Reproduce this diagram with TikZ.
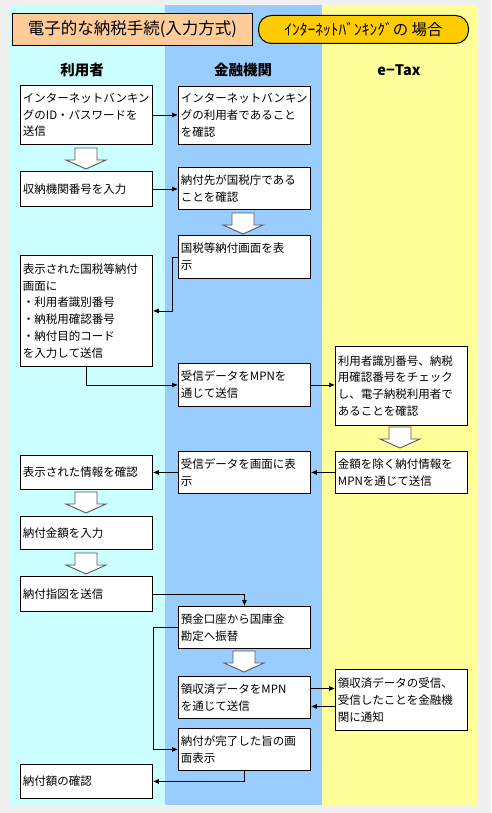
\documentclass[tikz,border=0pt]{standalone}
\usepackage{fontspec}
\setmainfont{Noto Sans CJK JP}
\usetikzlibrary{arrows.meta}
\definecolor{bggray}{HTML}{F0F0F0}
\definecolor{colcyan}{HTML}{CCFFFF}
\definecolor{colblue}{HTML}{99CCFF}
\definecolor{colyellow}{HTML}{FFFF99}
\definecolor{titleorange}{HTML}{FFCC99}
\definecolor{pillorange}{HTML}{FFCC00}
\begin{document}
\begin{tikzpicture}[x=1pt,y=-1pt,
  box/.style={draw=black, line width=0.9pt, fill=white, inner xsep=2.5pt, inner ysep=1pt,
    text width=127pt, align=left, font=\fontsize{11.5pt}{16.8pt}\selectfont, anchor=north west},
  conn/.style={line width=0.7pt, -{Latex[length=6pt,width=5pt]}},
  hollowstyle/.style={draw=black!65, line width=0.9pt, fill=white},
  colhead/.style={font=\bfseries\fontsize{14.5pt}{16pt}\selectfont},
  hollow/.pic={\draw[hollowstyle] (-11,0) -- (-11,12) -- (-20,12) -- (0,21) -- (20,12) -- (11,12) -- (11,0) -- cycle;}
]
\useasboundingbox (0,0) rectangle (491,813);
\fill[bggray] (0,0) rectangle (491,813);
\fill[colcyan] (9,5) rectangle (165,805);
\fill[colblue] (165,5) rectangle (322,805);
\fill[colyellow] (322,5) rectangle (477,805);

\node[draw=black, line width=0.9pt, fill=titleorange, minimum width=240pt, minimum height=32pt, anchor=north west,
  font=\fontsize{16.5pt}{18pt}\selectfont] (title) at (12,13) {電子的な納税手続(入力方式)};
\node[draw=black, line width=1pt, fill=pillorange, rounded corners=13pt, minimum width=210pt, minimum height=28pt,
  anchor=north west, font=\fontsize{15.5pt}{17pt}\selectfont] (pill) at (258,15) {ｲﾝﾀｰﾈｯﾄﾊﾞﾝｷﾝｸﾞの 場合};

\node[colhead] (h1) at (82,70) {利用者};
\node[colhead] (h2) at (243,70) {金融機関};
\node[colhead] (h3) at (399,70) {e−Tax};

\node[box, minimum height=59pt] (L1) at (20,85) {インターネットバンキン\\グのID・パスワードを\\送信};
\node[box, minimum height=58pt] (M1) at (178,86) {インターネットバンキン\\グの利用者であること\\を確認};
\node[box, minimum height=35pt] (L2) at (20,171) {収納機関番号を入力};
\node[box, minimum height=42pt] (M2) at (178,167) {納付先が国税庁である\\ことを確認};
\node[box, minimum height=43pt] (M3) at (178,235) {国税等納付画面を表\\示};
\node[box, minimum height=111pt] (L3) at (20,255) {表示された国税等納付\\画面に\\・利用者識別番号\\・納税用確認番号\\・納付目的コード\\を入力して送信};
\node[box, minimum height=43pt] (M4) at (178,363) {受信データをMPNを\\通じて送信};
\node[box, minimum height=79pt] (R1) at (335,346) {利用者識別番号、納税\\用確認番号をチェック\\し、電子納税利用者で\\あることを確認};
\node[box, minimum height=42pt] (R2) at (335,451) {金額を除く納付情報を\\MPNを通じて送信};
\node[box, minimum height=42pt] (M5) at (178,451) {受信データを画面に表\\示};
\node[box, minimum height=34pt] (L4) at (20,455) {表示された情報を確認};
\node[box, minimum height=33pt] (L5) at (20,516) {納付金額を入力};
\node[box, minimum height=35pt] (L6) at (20,576) {納付指図を送信};
\node[box, minimum height=42pt] (M6) at (178,606) {預金口座から国庫金\\勘定へ振替};
\node[box, minimum height=42pt] (M7) at (178,676) {領収済データをMPN\\を通じて送信};
\node[box, minimum height=61pt] (R3) at (335,669) {領収済データの受信、\\受信したことを金融機\\関に通知};
\node[box, minimum height=42pt] (M8) at (178,728) {納付が完了した旨の画\\面表示};
\node[box, minimum height=34pt] (L7) at (20,764) {納付額の確認};

\pic at (86,148) {hollow};
\pic at (243,213) {hollow};
\pic at (400,427) {hollow};
\pic at (86,492) {hollow};
\pic at (86,553) {hollow};
\pic at (244,651) {hollow};

\draw[conn] (L1.east) -- (L1.east -| M1.west);
\draw[conn] (L2.east) -- (L2.east -| M2.west);
\coordinate (k1) at ([xshift=-6pt]M3.west);
\draw[conn] (M3.west) -- (k1) |- (L3.east);
\draw[conn] (L3.south) |- (M4.west);
\draw[conn] (M4.east) -- (M4.east -| R1.west);
\draw[conn] (R2.west) -- (R2.west -| M5.east);
\draw[conn] (M5.west) -- (M5.west -| L4.east);
\draw[conn] (L6.east) -| (M6.north);
\coordinate (k2) at (M6.west -| L6.east);
\draw[conn] (M6.west) -- (k2) |- (M8.west);
\coordinate (a1) at ([yshift=9pt]M7.east);
\draw[conn] (a1) -- (a1 -| R3.west);
\coordinate (a2) at ([yshift=-9pt]M7.east);
\draw[conn] (a2 -| R3.west) -- (a2);
\draw[conn] (M8.south) |- (L7.east);
\end{tikzpicture}
\end{document}
